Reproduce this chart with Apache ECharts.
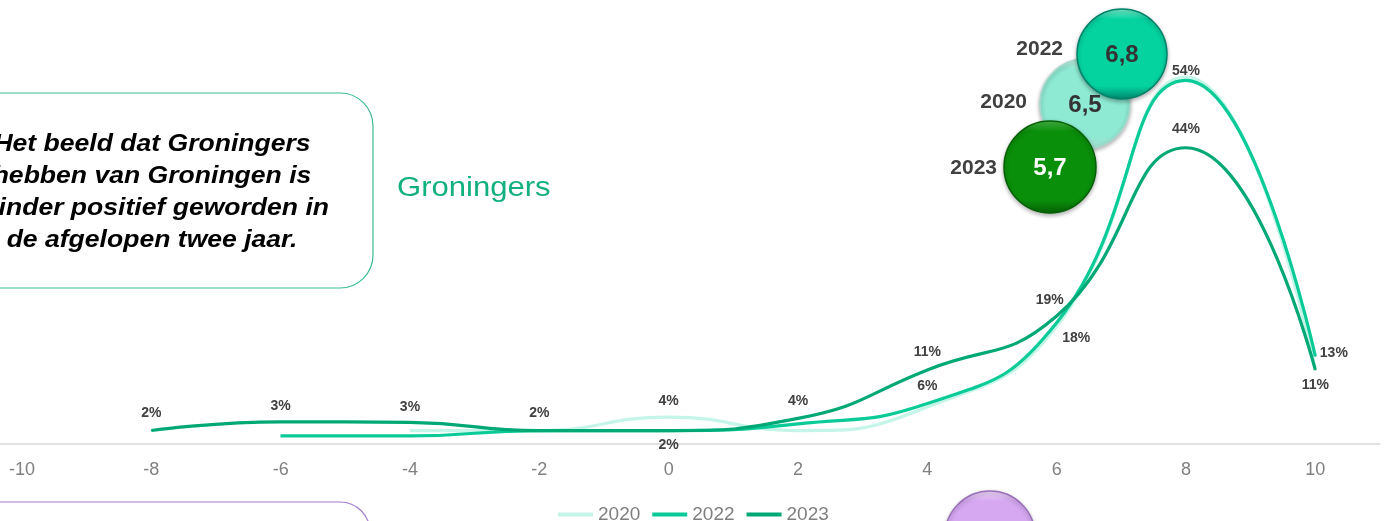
<!DOCTYPE html>
<html>
<head>
<meta charset="utf-8">
<script src="https://cdn.jsdelivr.net/npm/echarts@6/dist/echarts.min.js"></script>
<style>
  html, body { margin: 0; padding: 0; background: #fff; }
  #chart { width: 1387px; height: 521px; }
</style>
</head>
<body>
<div id="chart"></div>
<script>
// rapportcijfer-verdeling (x) en aandeel in % (y)
const xValues = [-8, -6, -4, -2, 0, 2, 4, 6, 8, 10];
const tickValues = [-10, -8, -6, -4, -2, 0, 2, 4, 6, 8, 10];
const years = ['2020', '2022', '2023'];
const values2020 = [null, null, 2, 2, 4, 2, 5.5, 17.5, 54.5, 11];
const values2022 = [null, 1.2, 1.2, 2, 2, 3, 6, 18, 54, 13];
const values2023 = [2, 3.3, 3.2, 2, 2, 3.8, 11, 19, 44, 11];
// gemiddelde cijfers per jaar
const scoreYears = ['2020', '2022', '2023'];
const scores = ['6,5', '6,8', '5,7'];

const colors = { '2020': '#c4f5e8', '2022': '#0acb98', '2023': '#00a876' };

// which points get a label and where (style only)
const labelSpec = {
  '2020': { 0: { position: 'top', distance: 8 } },
  '2022': {
    4: { position: 'top', distance: 10 },
    6: { position: 'right', distance: 5, offset: [0, 15] },
    8: { position: 'top', distance: 2 },
    10: { position: 'right', distance: 4, offset: [0, -3] }
  },
  '2023': {
    '-8': { position: 'top', distance: 10 },
    '-6': { position: 'top', distance: 8 },
    '-4': { position: 'top', distance: 8 },
    '-2': { position: 'top', distance: 10 },
    0: { position: 'bottom', distance: 7 },
    2: { position: 'top', distance: 10 },
    4: { position: 'top', distance: 10 },
    6: { position: 'top', distance: 8, offset: [-7, 0] },
    8: { position: 'top', distance: 11 },
    10: { position: 'bottom', distance: 8 }
  }
};

function buildData(year, vals) {
  return xValues.map((x, i) => {
    if (vals[i] == null) return [x, null];
    const spec = labelSpec[year][x];
    const item = { value: [x, vals[i]] };
    if (spec) {
      item.label = Object.assign({ show: true }, spec);
    }
    return item;
  });
}

const seriesValues = { '2020': values2020, '2022': values2022, '2023': values2023 };

const chart = echarts.init(document.getElementById('chart'), null, { renderer: 'canvas' });

function bubble(cx, cy, r, base, light, dark, z) {
  return {
    type: 'circle',
    shape: { cx: cx, cy: cy, r: r },
    z: z,
    style: {
      fill: {
        type: 'linear', x: 0, y: 0, x2: 0, y2: 1,
        colorStops: [
          { offset: 0, color: light },
          { offset: 0.12, color: base },
          { offset: 0.85, color: base },
          { offset: 1, color: dark }
        ]
      },
      stroke: dark,
      lineWidth: 1.5,
      shadowBlur: 4,
      shadowOffsetY: 2,
      shadowColor: 'rgba(0,0,0,0.3)'
    }
  };
}

function scoreOf(y) { return scores[scoreYears.indexOf(y)]; }

const option = {
  animation: false,
  textStyle: { fontFamily: 'Arial, "Liberation Sans", sans-serif' },
  grid: { left: 0, right: 7, top: 40, bottom: 77 },
  legend: {
    data: years,
    left: 553,
    top: 500,
    icon: 'rect',
    itemWidth: 35,
    itemHeight: 4,
    itemGap: 12,
    textStyle: { color: '#7f7f7f', fontSize: 19 }
  },
  xAxis: {
    type: 'value',
    min: -10.34,
    max: 11,
    axisLine: { show: true, lineStyle: { color: '#d9d9d9', width: 1.5 } },
    axisTick: { show: false },
    splitLine: { show: false },
    axisLabel: {
      customValues: tickValues,
      color: '#808080',
      fontSize: 18,
      margin: 17
    }
  },
  yAxis: {
    type: 'value',
    min: 0,
    max: 60,
    show: false
  },
  series: years.map((y, k) => ({
    name: y,
    type: 'line',
    smooth: true,
    z: 2 + k,
    symbol: 'circle',
    symbolSize: 1,
    clip: false,
    lineStyle: { color: colors[y], width: 3.2 },
    itemStyle: { color: colors[y] },
    label: {
      show: false,
      fontSize: 14,
      fontWeight: 'bold',
      color: '#404040',
      formatter: p => Math.round(p.value[1]) + '%'
    },
    emphasis: { disabled: true },
    data: buildData(y, seriesValues[y])
  })),
  graphic: [
    {
      type: 'rect',
      shape: { x: -40, y: 93, width: 413, height: 195, r: 33 },
      style: { fill: '#fff', stroke: '#3dbd92', lineWidth: 1.2 },
      z: 10
    },
    {
      type: 'text',
      x: 152, y: 193,
      scaleX: 1.13,
      z: 11,
      style: {
        text: 'Het beeld dat Groningers\nhebben van Groningen is\nminder positief geworden in\nde afgelopen twee jaar.',
        font: 'italic bold 23.5px Arial, "Liberation Sans", sans-serif',
        fill: '#000',
        align: 'center',
        verticalAlign: 'middle',
        lineHeight: 32
      }
    },
    {
      type: 'text',
      x: 397, y: 189,
      scaleX: 1.15,
      z: 11,
      style: {
        text: 'Groningers',
        font: '27px Arial, "Liberation Sans", sans-serif',
        fill: '#12b080',
        verticalAlign: 'middle'
      }
    },
    bubble(1085, 104, 45, '#8eead3', '#c9f7ea', '#a6d9cc', 20),
    bubble(1122, 54, 45, '#04d3a0', '#7ef0cf', '#00836a', 21),
    bubble(1050, 167, 46, '#0a8f0a', '#49b949', '#055f05', 21),
    {
      type: 'text', x: 1085, y: 105, z: 30,
      style: { text: scoreOf('2020'), font: 'bold 24px Arial, sans-serif', fill: '#333', align: 'center', verticalAlign: 'middle' }
    },
    {
      type: 'text', x: 1122, y: 55, z: 30,
      style: { text: scoreOf('2022'), font: 'bold 24px Arial, sans-serif', fill: '#333', align: 'center', verticalAlign: 'middle' }
    },
    {
      type: 'text', x: 1050, y: 168, z: 30,
      style: { text: scoreOf('2023'), font: 'bold 24px Arial, sans-serif', fill: '#fff', align: 'center', verticalAlign: 'middle' }
    },
    {
      type: 'text', x: 1063, y: 49, z: 30,
      style: { text: '2022', font: 'bold 21px Arial, sans-serif', fill: '#404040', align: 'right', verticalAlign: 'middle' }
    },
    {
      type: 'text', x: 1027, y: 102, z: 30,
      style: { text: '2020', font: 'bold 21px Arial, sans-serif', fill: '#404040', align: 'right', verticalAlign: 'middle' }
    },
    {
      type: 'text', x: 997, y: 168, z: 30,
      style: { text: '2023', font: 'bold 21px Arial, sans-serif', fill: '#404040', align: 'right', verticalAlign: 'middle' }
    },
    // purple elements of the next panel, cut off at the bottom
    {
      type: 'rect',
      shape: { x: -40, y: 502, width: 410, height: 120, r: 30 },
      style: { fill: 'none', stroke: '#a57ccc', lineWidth: 1.2 },
      z: 10
    },
    bubble(990, 536, 45, '#d6a8f2', '#f1dcfb', '#9a6fb8', 20)
  ]
};

chart.setOption(option);
</script>
</body>
</html>
